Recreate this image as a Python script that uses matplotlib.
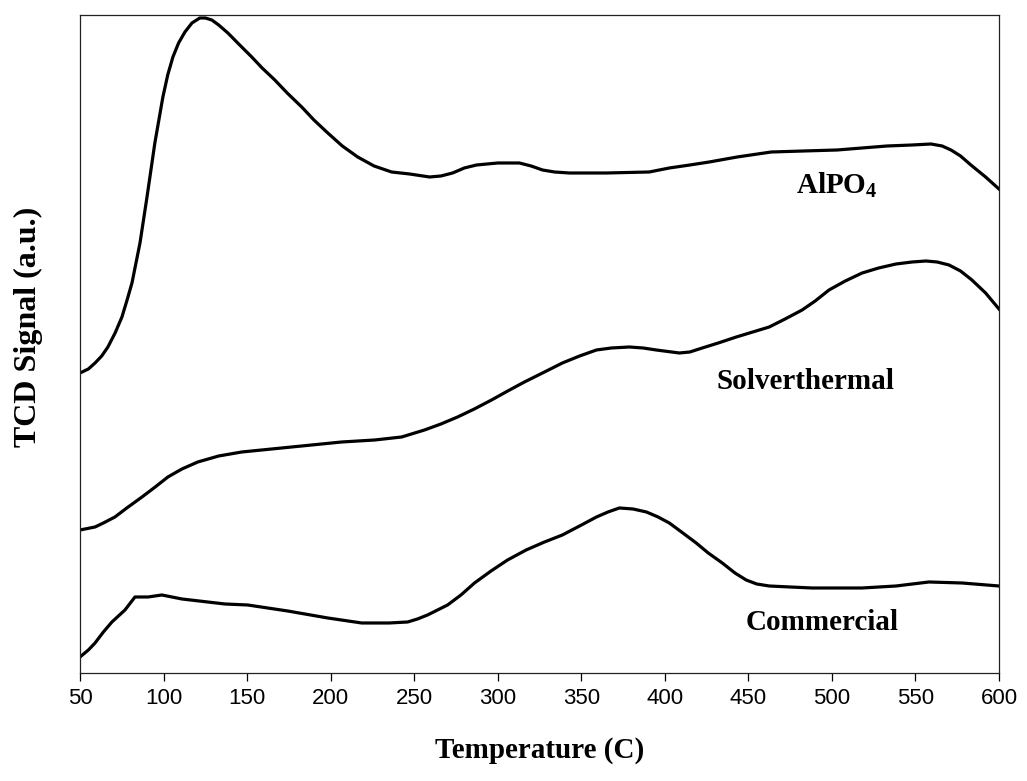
import numpy as np
import matplotlib
matplotlib.use("Agg")
import matplotlib.pyplot as plt

# TPD curves (temperature in C, signal in arbitrary units)
alpo4_t = [50, 55, 59, 63, 66.7, 71, 75.1, 78, 81.1, 85.9, 90.1, 94.8, 99.6,
           102.5, 105.6, 109, 112.8, 117, 121.7, 125, 128.9, 133, 138.5, 145,
           152.8, 159, 166.6, 174, 182.7, 190, 198.3, 207, 216.2, 226, 236.5,
           247.3, 259.2, 266, 273, 280, 287.3, 300, 313, 320, 326.8, 334, 342.9,
           365, 390.7, 402.7, 415, 426.6, 443.3, 463.7, 483, 503.1, 518, 533,
           548, 559.3, 566, 571.3, 577, 583.2, 592, 600]
alpo4_s = [300, 304, 310, 317, 326, 340, 356, 372, 390, 430, 476, 530, 576,
           598, 616, 630, 641, 650, 655, 655, 653, 648, 640, 629,
           616, 605, 593, 580, 566, 553, 540, 527, 516, 507, 501,
           499, 496, 497, 500, 505, 508, 510, 510, 507, 503, 501, 500,
           500, 501, 505, 508, 511, 516, 521, 522, 523, 525, 527,
           528, 529, 527, 523, 517, 508, 496, 484]

solvo_t = [50, 59, 64, 70.9, 78, 87.1, 95, 102.6, 111, 120.5, 133, 146.8, 176.7,
           206.6, 226.4, 242.5, 256.2, 266, 276, 286, 296.3, 306, 316, 328,
           338.7, 349, 359.1, 368, 378.8, 387, 394.9, 408.7, 415, 422.4, 432,
           442.8, 462.5, 472, 482.2, 490, 498.3, 508, 518.1, 528, 538.4, 548,
           556.3, 563, 570.1, 577, 583.8, 592, 600]
solvo_s = [143, 146, 150, 156, 165, 176, 186, 196, 204, 211, 217, 221, 226,
           231, 233, 236, 243, 249, 256, 264, 273, 282, 291, 301,
           310, 317, 323, 325, 326, 325, 323, 320, 321, 325, 330,
           336, 346, 354, 363, 372, 383, 392, 400, 405, 409, 411,
           412, 411, 408, 402, 393, 380, 364]

comm_t = [50, 55, 59, 64, 69.1, 76.9, 82.9, 90.7, 99, 111, 136.7, 150.4, 174.3,
          198.3, 218.6, 235, 246.1, 252, 258, 264, 270, 278, 286.1, 296, 305.9,
          317, 328, 338.7, 349, 359.1, 366, 372.8, 381, 389, 396, 402.7, 410,
          418.8, 426, 434.4, 442, 448.7, 455, 462.5, 475, 488.2, 518.1, 538.4,
          558.1, 577.9, 600]
comm_s = [16, 23, 30, 41, 51, 63, 76, 76, 78, 74, 69, 68, 62,
          55, 50, 50, 51, 54, 58, 63, 68, 78, 90, 102, 113,
          123, 131, 138, 147, 156, 161, 165, 164, 161, 156, 150, 141,
          130, 120, 110, 100, 93, 89, 87, 86, 85, 85, 87,
          91, 90, 87]

labels = ["AlPO$_4$", "Solverthermal", "Commercial"]
label_pos = [(503, 488), (484, 291), (494, 50)]

x_ticks = np.arange(50, 601, 50)

plt.rcParams['mathtext.fontset'] = 'custom'
plt.rcParams['mathtext.rm'] = 'Liberation Serif:bold'
plt.rcParams['mathtext.it'] = 'Liberation Serif:bold'
plt.rcParams['mathtext.bf'] = 'Liberation Serif:bold'

fig = plt.figure(figsize=(10.27, 7.81), dpi=100)
ax = fig.add_axes([0.0779, 0.1383, 0.8948, 0.8425])

for t, s in [(alpo4_t, alpo4_s), (solvo_t, solvo_s), (comm_t, comm_s)]:
    ax.plot(t, s, color="black", linewidth=2.3, solid_joinstyle="round")

for txt, (x, y) in zip(labels, label_pos):
    ax.text(x, y, txt, ha="center", va="center", fontsize=21,
            family="Liberation Serif", fontweight="bold")

ax.set_xlim(50, 600)
ax.set_ylim(0, 658)
ax.set_xticks(x_ticks)
ax.set_yticks([])
ax.tick_params(axis="x", direction="out", length=6, width=0.9, pad=5,
               labelsize=16, labelfontfamily="Liberation Sans")
for sp in ax.spines.values():
    sp.set_linewidth(0.9)
    sp.set_color("#222222")

ax.set_xlabel("Temperature (C)", fontsize=21, family="Liberation Serif",
              fontweight="bold", labelpad=20)
ax.set_ylabel("TCD Signal (a.u.)", fontsize=23, family="Liberation Serif",
              fontweight="bold")
ax.yaxis.set_label_coords(-0.04, 0.526)

plt.savefig("out.png", dpi=100)
